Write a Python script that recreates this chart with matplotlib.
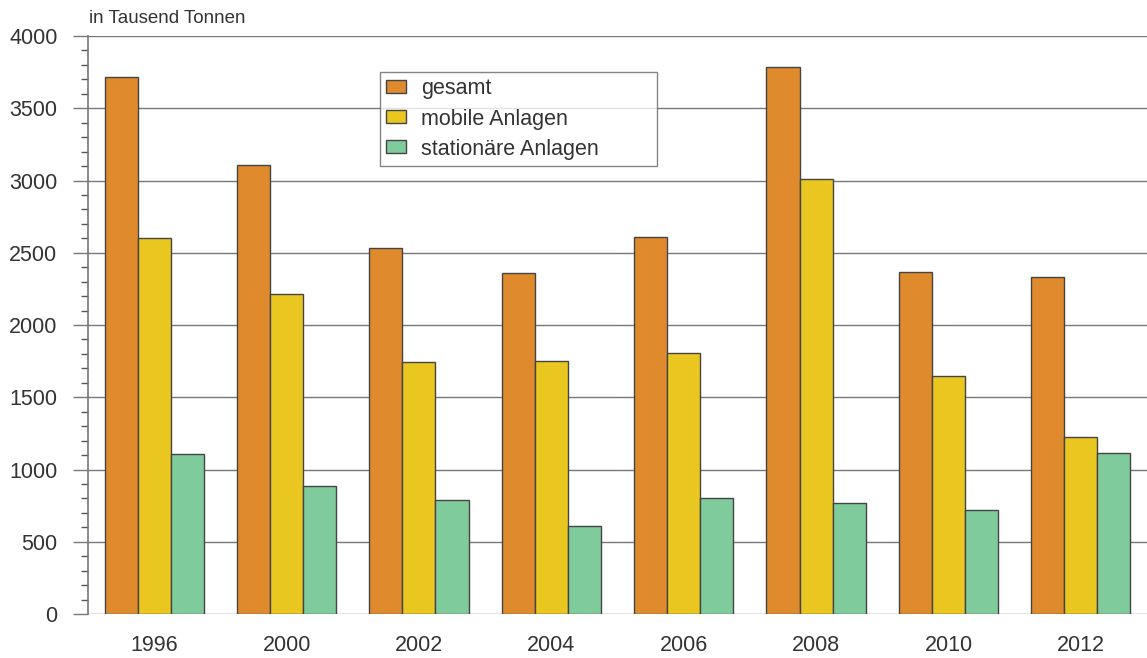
import numpy as np
import matplotlib.pyplot as plt
from matplotlib.ticker import MultipleLocator

plt.rcParams['font.family'] = ['Liberation Sans', 'DejaVu Sans']

# data (in Tausend Tonnen)
years = ['1996', '2000', '2002', '2004', '2006', '2008', '2010', '2012']
gesamt = [3715, 3105, 2533, 2362, 2607, 3783, 2368, 2335]
mobile = [2603, 2215, 1745, 1750, 1805, 3013, 1648, 1222]
stationaer = [1105, 888, 792, 612, 802, 770, 720, 1112]

labels = ['gesamt', 'mobile Anlagen', 'stationäre Anlagen']
colors = ['#df8a2c', '#e9c620', '#80cb9c']

fig = plt.figure(figsize=(11.47, 6.58), dpi=100)
ax = fig.add_axes([88/1147, 44/658, 1059/1147, 578/658])

x = np.arange(len(years)) + 0.5
w = 0.25
for i, (vals, lab, col) in enumerate(zip([gesamt, mobile, stationaer], labels, colors)):
    ax.bar(x + (i - 1) * w, vals, width=w, color=col, edgecolor='#444444',
           linewidth=1, label=lab, zorder=3)

ax.set_xlim(0, len(years))
ax.set_ylim(0, 4000)
ax.set_xticks(x)
ax.set_xticklabels(years)
ax.yaxis.set_major_locator(MultipleLocator(500))
ax.yaxis.set_minor_locator(MultipleLocator(100))
ax.grid(axis='y', which='major', color='#777777', linewidth=1, zorder=0)

for s in ['top', 'right', 'bottom']:
    ax.spines[s].set_visible(False)
ax.spines['left'].set_color('#777777')
ax.spines['left'].set_linewidth(1.2)

ax.tick_params(axis='y', which='major', length=11, width=1, color='#777777',
               labelsize=15.5, labelcolor='#333333', pad=11)
ax.tick_params(axis='y', which='minor', length=5, width=1, color='#555555')
ax.tick_params(axis='x', length=0, labelsize=15.5, labelcolor='#333333', pad=15)

fig.text(89/1147, 1 - 23/658, 'in Tausend Tonnen', fontsize=13.5, color='#333333',
         ha='left', va='baseline')

leg = ax.legend(loc='upper left', bbox_to_anchor=(0.2757, 0.5, 0.2616, 0.4377),
                mode='expand', fontsize=15.5,
                frameon=True, fancybox=False, handlelength=0.9, handleheight=0.55,
                handletextpad=0.7, borderpad=0.3, labelspacing=0.42,
                borderaxespad=0, labelcolor='#333333')
leg.get_frame().set_edgecolor('#666666')
leg.get_frame().set_linewidth(1)
leg.set_zorder(5)

plt.savefig('out.png', dpi=100)
